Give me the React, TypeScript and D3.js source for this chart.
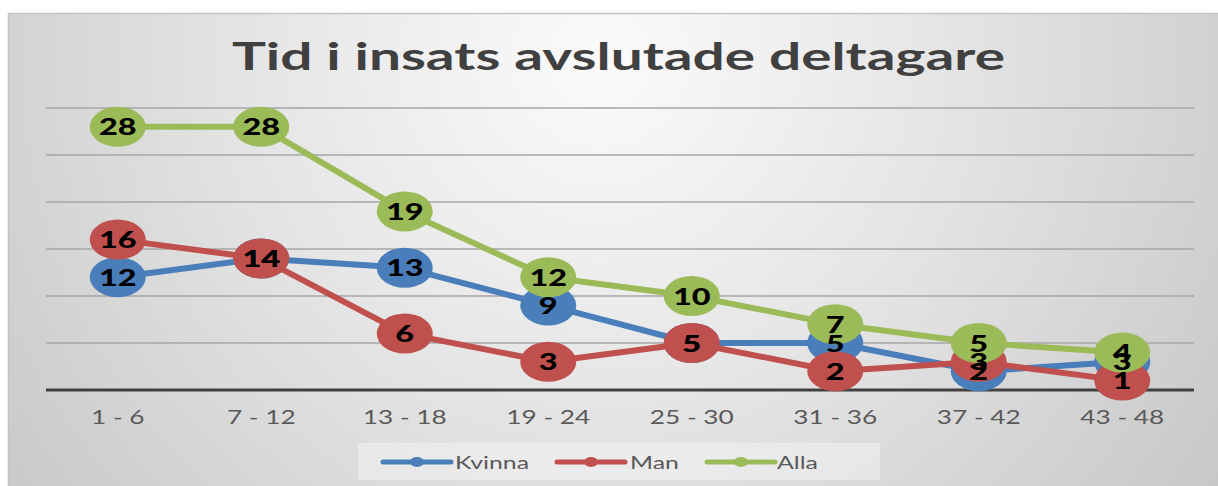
import React from "react";
import * as d3 from "d3";

const categories = ["1 - 6", "7 - 12", "13 - 18", "19 - 24", "25 - 30", "31 - 36", "37 - 42", "43 - 48"];
const kvinna = [12, 14, 13, 9, 5, 5, 2, 3];
const man = [16, 14, 6, 3, 5, 2, 3, 1];
const alla = [28, 28, 19, 12, 10, 7, 5, 4];
const seriesNames = ["Kvinna", "Man", "Alla"];
const seriesColors = ["#4a7ebb", "#c0504d", "#9bbb59"];
const yTicks = [0, 5, 10, 15, 20, 25, 30];
const title = "Tid i insats avslutade deltagare";

const W = 1218;
const H = 486;
const SX = 1.38;

export default function App() {
  const x = d3.scaleBand<string>().domain(categories).range([46, 1194]);
  const y = d3.scaleLinear().domain([0, 30]).range([390, 108]);
  const cx = (c: string) => (x(c) as number) + x.bandwidth() / 2;
  const line = d3
    .line<number>()
    .x((_, i) => cx(categories[i]))
    .y((d) => y(d));
  const series = [kvinna, man, alla];
  const font = "Lato, 'Open Sans', sans-serif";

  const legendItems = [
    { lx: 383, tx: 455 },
    { lx: 557, tx: 630 },
    { lx: 707, tx: 777 },
  ];

  return (
    <svg width={W} height={H} style={{ position: "absolute", left: 0, top: 0 }}>
      <defs>
        <radialGradient id="bg" cx="600" cy="60" r="800" gradientUnits="userSpaceOnUse">
          <stop offset="0" stopColor="#fbfbfb" />
          <stop offset="0.45" stopColor="#e4e4e4" />
          <stop offset="1" stopColor="#c4c4c4" />
        </radialGradient>
      </defs>
      <rect x={0} y={0} width={W} height={H} fill="#ffffff" />
      <rect x={8.5} y={13.5} width={W} height={H} fill="url(#bg)" stroke="#c3c3c3" strokeWidth={1.5} />
      <text
        x={232}
        y={70}
        textLength={773}
        lengthAdjust="spacingAndGlyphs"
        fontFamily={font}
        fontWeight={700}
        fontSize={38}
        fill="#404040"
      >
        {title}
      </text>
      {yTicks
        .filter((t) => t > 0)
        .map((t) => (
          <line key={t} x1={46} x2={1194} y1={y(t)} y2={y(t)} stroke="#a6a6a6" strokeWidth={1.3} />
        ))}
      <line x1={46} x2={1194} y1={y(0)} y2={y(0)} stroke="#404040" strokeWidth={3} />
      {categories.map((c) => (
        <text
          key={c}
          transform={`translate(${cx(c)},424) scale(${SX},1)`}
          textAnchor="middle"
          fontFamily={font}
          fontSize={19}
          fill="#595959"
        >
          {c}
        </text>
      ))}
      {series.map((s, si) => (
        <g key={si}>
          <path d={line(s) as string} fill="none" stroke={seriesColors[si]} strokeWidth={6} strokeLinejoin="round" />
          {s.map((v, i) => (
            <ellipse key={i} cx={cx(categories[i])} cy={y(v)} rx={28} ry={20} fill={seriesColors[si]} />
          ))}
        </g>
      ))}
      {series.map((s, si) => (
        <g key={"l" + si}>
          {s.map((v, i) => (
            <text
              key={i}
              transform={`translate(${cx(categories[i])},${y(v) + 8.5}) scale(${SX},1)`}
              textAnchor="middle"
              fontFamily={font}
              fontWeight={900}
              fontSize={23.5}
              fill="#000000"
            >
              {v}
            </text>
          ))}
        </g>
      ))}
      <rect x={358} y={443} width={522} height={37} fill="#ffffff" opacity={0.35} />
      {seriesNames.map((n, i) => (
        <g key={n}>
          <line x1={legendItems[i].lx} x2={legendItems[i].lx + 68} y1={462} y2={462} stroke={seriesColors[i]} strokeWidth={5} strokeLinecap="round" />
          <ellipse cx={legendItems[i].lx + 34} cy={462} rx={7} ry={5} fill={seriesColors[i]} />
          <text
            transform={`translate(${legendItems[i].tx},469) scale(${SX},1)`}
            fontFamily={font}
            fontSize={18}
            fill="#595959"
          >
            {n}
          </text>
        </g>
      ))}
    </svg>
  );
}
